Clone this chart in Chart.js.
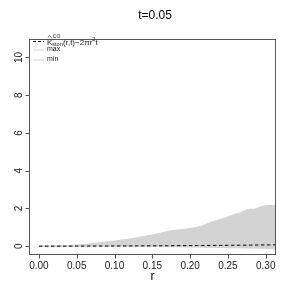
<!DOCTYPE html>
<html><head><meta charset="utf-8">
<script src="https://cdn.jsdelivr.net/npm/chart.js@4/dist/chart.umd.min.js"></script>
<style>html,body{margin:0;padding:0;background:#fff}#wrap{width:291px;height:291px}</style>
</head><body><div id="wrap"><canvas id="c" width="291" height="291"></canvas></div>
<script>
const titleText = "t=0.05";
const xLabel = "r";
const xTicks = [0, 0.05, 0.10, 0.15, 0.20, 0.25, 0.30];
const xTickLabels = ["0.00","0.05","0.10","0.15","0.20","0.25","0.30"];
const yTicks = [0, 2, 4, 6, 8, 10];
const yTickLabels = ["0","2","4","6","8","10"];
const rVals = [0,0.01,0.02,0.03,0.04,0.05,0.06,0.07,0.08,0.09,0.10,0.11,0.12,0.13,0.14,0.15,0.16,0.17,0.18,0.19,0.20,
  0.205,0.21,0.215,0.22,0.225,0.23,0.235,0.24,0.245,0.25,0.255,0.26,0.265,0.27,0.275,0.28,0.285,0.29,0.295,0.30,0.305,0.31,0.315,0.32];
const maxVals = [0,0.005,0.01,0.02,0.04,0.06,0.09,0.13,0.17,0.22,0.27,0.32,0.38,0.45,0.52,0.59,0.68,0.78,0.84,0.88,0.94,
  0.97,1.01,1.06,1.14,1.22,1.30,1.36,1.42,1.48,1.55,1.62,1.70,1.75,1.84,1.93,1.96,1.95,2.03,2.10,2.14,2.16,2.15,2.13,2.12];
const minVals = [0,0,0,0,0,0,0,0,0,0,0,-0.01,-0.01,-0.015,-0.02,-0.02,-0.025,-0.03,-0.035,-0.04,-0.045,
  -0.05,-0.05,-0.055,-0.06,-0.06,-0.065,-0.07,-0.07,-0.075,-0.08,-0.085,-0.09,-0.09,-0.095,-0.10,-0.10,-0.105,-0.11,-0.115,-0.12,-0.12,-0.125,-0.13,-0.13];
const obsVals = [0,0,0,0,0.001,0.002,0.003,0.004,0.005,0.006,0.007,0.009,0.01,0.012,0.014,0.016,0.018,0.02,0.023,0.025,0.028,
  0.03,0.031,0.032,0.034,0.036,0.037,0.039,0.04,0.042,0.044,0.046,0.048,0.05,0.052,0.054,0.056,0.058,0.06,0.062,0.064,0.066,0.068,0.07,0.072];

const FONT = '"Liberation Sans", Arial, Helvetica, sans-serif';
const GREY = '#d3d3d3';
const pts = arr => rVals.map((r,i)=>({x:r,y:arr[i]}));

const decor = {
  id:'decor',
  afterDraw(chart){
    const ctx = chart.ctx, a = chart.chartArea, xs = chart.scales.x, ys = chart.scales.y;
    ctx.save();
    // box
    ctx.strokeStyle = '#555'; ctx.lineWidth = 1;
    ctx.strokeRect(Math.round(a.left)+0.5, Math.round(a.top)+0.5, Math.round(a.right-a.left)-1, Math.round(a.bottom-a.top));
    // x ticks
    ctx.fillStyle = '#222'; ctx.font = '10px '+FONT; ctx.textAlign='center'; ctx.textBaseline='middle';
    const xb = Math.round(a.bottom)+0.5;
    ctx.beginPath();
    xTicks.forEach(v=>{const px=Math.round(xs.getPixelForValue(v))+0.5; ctx.moveTo(px,xb); ctx.lineTo(px,xb+4);});
    ctx.stroke();
    xTicks.forEach((v,i)=>{ctx.fillText(xTickLabels[i], xs.getPixelForValue(v), xb+11.5);});
    // y ticks
    const xl = Math.round(a.left)+0.5;
    ctx.beginPath();
    yTicks.forEach(v=>{const py=Math.round(ys.getPixelForValue(v))+0.5; ctx.moveTo(xl,py); ctx.lineTo(xl-4,py);});
    ctx.stroke();
    yTicks.forEach((v,i)=>{ctx.save(); ctx.translate(xl-10, ys.getPixelForValue(v)); ctx.rotate(-Math.PI/2); ctx.fillText(yTickLabels[i],0,0); ctx.restore();});
    // title and x label
    ctx.font = '12px '+FONT; ctx.fillStyle='#000';
    ctx.fillText(titleText, 155, 16);
    ctx.fillText(xLabel, (a.left+a.right)/2, 277);
    // legend
    const lx0 = 33, lx1 = 44, tx = 47;
    const rows = [41, 49.5, 59.5];
    ctx.lineWidth = 1;
    ctx.strokeStyle = '#000'; ctx.setLineDash([3,2]);
    ctx.beginPath(); ctx.moveTo(lx0, rows[0]+0.5); ctx.lineTo(lx1, rows[0]+0.5); ctx.stroke();
    ctx.setLineDash([]);
    ctx.strokeStyle = GREY;
    ctx.beginPath(); ctx.moveTo(lx0, rows[1]+0.5); ctx.lineTo(lx1, rows[1]+0.5); ctx.stroke();
    ctx.beginPath(); ctx.moveTo(lx0, rows[2]+0.5); ctx.lineTo(lx1, rows[2]+0.5); ctx.stroke();
    ctx.fillStyle = '#222'; ctx.textAlign='left'; ctx.textBaseline='alphabetic';
    let x = tx; const base = rows[0]+3.5;
    ctx.font = '8px '+FONT; ctx.fillText('K', x, base);
    const kw = ctx.measureText('K').width;
    // hat
    ctx.strokeStyle = '#333'; ctx.lineWidth = 0.6;
    ctx.beginPath(); ctx.moveTo(x+0.8, base-7); ctx.lineTo(x+kw/2, base-8.8); ctx.lineTo(x+kw-0.8, base-7); ctx.stroke();
    ctx.font = '5px '+FONT; ctx.fillText('CO', x+kw+0.5, base-6.5);
    ctx.font = '5.5px '+FONT; ctx.fillText('ston', x+kw, base+1.8);
    x += kw + ctx.measureText('ston').width + 0.3;
    ctx.font = '8px '+FONT; ctx.fillText('(r,t)\u22122\u03C0r', x, base);
    x += ctx.measureText('(r,t)\u22122\u03C0r').width;
    ctx.font = '5.5px '+FONT; ctx.fillText('2', x, base-4);
    x += ctx.measureText('2').width;
    ctx.font = '8px '+FONT; ctx.fillText('t', x, base);
    ctx.font = '7px '+FONT; ctx.textBaseline='middle';
    ctx.fillText('max', tx, rows[1]);
    ctx.fillText('min', tx, rows[2]);
    ctx.restore();
  }
};

new Chart(document.getElementById('c'), {
  type:'line',
  data:{datasets:[
    {label:'obs', data:pts(obsVals), borderColor:'#000', borderWidth:1, borderDash:[3.5,2.5], pointRadius:0, fill:false, order:0},
    {label:'max', data:pts(maxVals), borderColor:GREY, backgroundColor:GREY, borderWidth:1, pointRadius:0, fill:'+1', order:1},
    {label:'min', data:pts(minVals), borderColor:GREY, borderWidth:1, pointRadius:0, fill:false, order:2}
  ]},
  options:{
    responsive:false, animation:false, devicePixelRatio:1,
    layout:{padding:{left:29, right:15, top:39, bottom:37.5}},
    plugins:{legend:{display:false}, tooltip:{enabled:false}, title:{display:false}},
    scales:{
      x:{type:'linear', min:-0.0131, max:0.3136, display:false},
      y:{type:'linear', min:-0.39, max:10.98, display:false}
    }
  },
  plugins:[decor]
});
</script></body></html>
